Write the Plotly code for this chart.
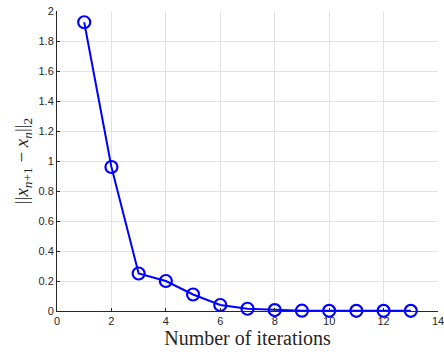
import plotly.graph_objects as go

iterations = [1, 2, 3, 4, 5, 6, 7, 8, 9, 10, 11, 12, 13]
residuals = [1.925, 0.96, 0.25, 0.2, 0.11, 0.04, 0.015, 0.006, 0.002, 0.001, 0.001, 0.001, 0.001]
x_ticks = [0, 2, 4, 6, 8, 10, 12, 14]
y_ticks = [0, 0.2, 0.4, 0.6, 0.8, 1, 1.2, 1.4, 1.6, 1.8, 2]

fig = go.Figure()
fig.add_trace(go.Scatter(
    x=iterations, y=residuals, mode="lines+markers",
    line=dict(color="#0000ff", width=2),
    marker=dict(symbol="circle-open", size=12, color="#0000ff", line=dict(width=2.2, color="#0000ff")),
    showlegend=False, cliponaxis=False,
))

axis_common = dict(
    showgrid=True, gridcolor="#e3e3e3", gridwidth=1,
    showline=True, linecolor="#262626", linewidth=1,
    ticks="inside", ticklen=3, tickcolor="#262626",
    tickfont=dict(family="Liberation Sans, Arial", size=11, color="#262626"),
    zeroline=False, mirror=False, automargin=False,
    ticklabeloverflow="allow",
)

fig.update_layout(
    width=444, height=354,
    margin=dict(l=57, r=6, t=11, b=43),
    paper_bgcolor="white", plot_bgcolor="white",
    xaxis=dict(range=[0, 14], tickvals=x_ticks, ticktext=[str(v) for v in x_ticks],
               title=dict(text="Number of iterations", standoff=2,
                          font=dict(family="Liberation Serif, DejaVu Serif, serif", size=20, color="#262626")),
               **axis_common),
    yaxis=dict(range=[0, 2], tickvals=y_ticks, ticktext=[f"{v:g}" for v in y_ticks],
               title=dict(text="||<i>x</i><sub><i>n</i>+1</sub> − <i>x</i><sub><i>n</i></sub>||<sub>2</sub>", standoff=4,
                          font=dict(family="Liberation Serif, DejaVu Serif, serif", size=19, color="#262626")),
               **axis_common),
)

# remove the default 8px page margin so the figure sits at the window's corner
fig.write_html("out.html", config={"displayModeBar": False},
               post_script="document.body.style.margin='0';")
